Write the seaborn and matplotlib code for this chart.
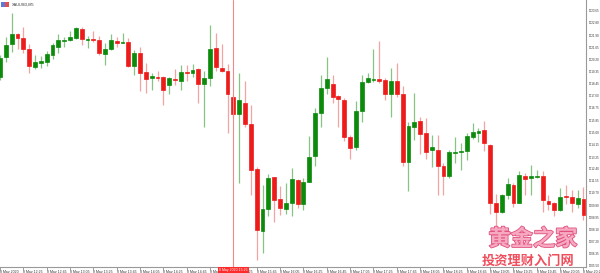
import matplotlib
matplotlib.use("Agg")
import matplotlib.pyplot as plt
import matplotlib.transforms as mtransforms
import matplotlib.patheffects as pe
from matplotlib.patches import Rectangle
import seaborn as sns
import numpy as np
import pandas as pd

# ---------------- data (XAUUSD M5, 8 May 2020, 12:05 .. 20:25) ----------------
opens = [1718.95, 1720.37, 1721.30, 1722.01, 1721.72, 1720.94, 1719.66, 1719.94, 1720.02, 1720.51,
         1721.08, 1721.51, 1721.58, 1721.72, 1722.37, 1721.58, 1721.65, 1721.58, 1720.59, 1720.94,
         1721.51, 1721.40, 1721.44, 1719.73, 1720.66, 1719.30, 1718.88, 1718.95, 1718.95, 1718.38,
         1718.81, 1718.66, 1719.30, 1719.23, 1719.52, 1718.45, 1718.88, 1721.01, 1719.59, 1719.37,
         1717.52, 1716.31, 1717.10, 1715.60, 1712.40, 1707.98, 1709.55, 1711.83, 1710.26, 1709.55,
         1709.98, 1711.61, 1709.91, 1711.47, 1713.32, 1716.38, 1718.16, 1718.45, 1717.59, 1717.31,
         1714.68, 1713.96, 1716.53, 1718.59, 1718.73, 1718.81, 1718.73, 1717.74, 1718.66, 1717.74,
         1712.90, 1715.39, 1715.81, 1714.96, 1713.75, 1713.75, 1712.61, 1711.90, 1713.54, 1713.61,
         1713.68, 1714.68, 1714.96, 1715.17, 1714.11, 1709.98, 1709.34, 1710.55, 1711.26, 1709.98,
         1711.90, 1711.76, 1711.83, 1711.90, 1710.12, 1709.98, 1709.48, 1710.47, 1710.40, 1709.91,
         1710.26]
highs = [1720.51, 1721.80, 1723.50, 1722.08, 1722.51, 1721.30, 1720.51, 1720.44, 1720.80, 1721.37,
         1722.01, 1721.80, 1722.22, 1722.51, 1722.51, 1721.87, 1722.22, 1721.87, 1721.37, 1722.01,
         1721.80, 1722.08, 1721.72, 1720.87, 1721.08, 1719.94, 1719.23, 1719.37, 1719.02, 1718.95,
         1719.52, 1719.80, 1719.80, 1719.87, 1719.59, 1719.37, 1722.65, 1722.08, 1721.30, 1719.87,
         1717.67, 1719.23, 1718.66, 1716.95, 1712.54, 1711.26, 1712.04, 1711.83, 1711.19, 1711.40,
         1712.47, 1711.69, 1711.76, 1714.75, 1716.74, 1719.09, 1720.37, 1719.09, 1717.67, 1717.45,
         1714.82, 1717.24, 1719.09, 1719.23, 1720.94, 1721.51, 1718.88, 1719.59, 1719.94, 1718.31,
         1715.74, 1717.81, 1716.10, 1716.03, 1714.82, 1714.82, 1712.82, 1713.75, 1714.68, 1714.25,
         1714.96, 1715.67, 1715.32, 1715.81, 1714.18, 1710.62, 1710.62, 1711.76, 1711.40, 1712.25,
         1712.11, 1712.68, 1712.33, 1712.25, 1710.55, 1710.05, 1711.04, 1711.26, 1710.90, 1710.90,
         1711.12]
lows = [1718.73, 1720.02, 1720.73, 1720.94, 1720.66, 1719.23, 1719.52, 1719.59, 1719.73, 1720.23,
        1720.66, 1721.08, 1721.51, 1721.65, 1721.23, 1721.01, 1721.44, 1720.51, 1719.80, 1720.87,
        1721.08, 1721.37, 1719.66, 1719.09, 1717.95, 1717.81, 1718.02, 1718.66, 1716.95, 1717.74,
        1718.38, 1718.02, 1718.66, 1718.95, 1717.10, 1715.39, 1718.31, 1719.37, 1719.30, 1714.96,
        1716.10, 1711.40, 1715.39, 1710.55, 1705.92, 1706.42, 1709.05, 1708.62, 1709.12, 1709.19,
        1709.05, 1709.62, 1709.48, 1711.47, 1712.61, 1715.39, 1717.74, 1717.10, 1715.39, 1714.39,
        1713.11, 1713.75, 1715.74, 1718.52, 1718.59, 1718.52, 1717.31, 1716.10, 1717.52, 1712.61,
        1710.83, 1714.46, 1713.47, 1713.11, 1712.54, 1710.55, 1710.55, 1711.76, 1712.82, 1712.33,
        1713.04, 1714.53, 1714.32, 1713.68, 1709.19, 1708.05, 1709.26, 1710.26, 1709.69, 1709.98,
        1710.55, 1710.55, 1711.76, 1709.34, 1709.48, 1709.05, 1709.41, 1709.91, 1709.34, 1709.62,
        1708.77]
closes = [1720.30, 1721.23, 1722.01, 1721.72, 1720.94, 1719.73, 1720.02, 1720.09, 1720.59, 1721.23,
          1721.58, 1721.58, 1721.80, 1722.44, 1721.65, 1721.65, 1721.58, 1720.66, 1720.94, 1721.58,
          1721.37, 1721.44, 1719.73, 1720.66, 1719.23, 1718.81, 1719.02, 1718.88, 1718.02, 1718.88,
          1718.73, 1719.30, 1719.23, 1719.45, 1718.45, 1718.88, 1720.94, 1719.66, 1719.37, 1717.74,
          1716.31, 1717.31, 1715.60, 1712.33, 1708.05, 1709.55, 1711.76, 1710.19, 1709.62, 1709.98,
          1711.69, 1709.91, 1711.47, 1713.25, 1716.38, 1718.16, 1718.81, 1717.52, 1717.38, 1714.68,
          1713.89, 1716.53, 1718.59, 1718.88, 1718.81, 1718.66, 1717.74, 1718.66, 1717.74, 1712.90,
          1715.46, 1715.74, 1714.89, 1713.61, 1713.96, 1712.61, 1711.90, 1713.61, 1713.61, 1713.68,
          1714.75, 1715.03, 1715.10, 1714.25, 1709.98, 1709.34, 1710.55, 1711.33, 1709.98, 1711.97,
          1711.69, 1711.90, 1711.90, 1710.19, 1709.91, 1709.48, 1710.40, 1710.40, 1709.98, 1710.33,
          1709.12]

time_labels = ["8 May 2020", "8 May 12:25", "8 May 12:45", "8 May 13:05", "8 May 13:25",
               "8 May 13:45", "8 May 14:05", "8 May 14:25", "8 May 14:45", "8 May 15:05",
               "8 May 15:25", "8 May 15:45", "8 May 16:05", "8 May 16:25", "8 May 16:45",
               "8 May 17:05", "8 May 17:25", "8 May 17:45", "8 May 18:05", "8 May 18:25",
               "8 May 18:45", "8 May 19:05", "8 May 19:25", "8 May 19:45", "8 May 20:05",
               "8 May 20:25"]
price_ticks = [1723.65, 1722.80, 1721.90, 1721.05, 1720.20, 1719.35, 1718.45, 1717.60,
               1716.75, 1715.85, 1715.00, 1714.15, 1713.25, 1712.40, 1711.55, 1710.70,
               1709.80, 1708.95, 1708.10, 1707.20, 1706.35, 1705.50]
symbol_label = "XAUUSD,M5"
crosshair_bar = 40
crosshair_label = "8 May 2020 15:25"
watermark_main = "黄金之家"
watermark_sub = "投资理财入门网"

# ---------------- figure ----------------
sns.set_theme(style="white")
plt.rcParams['font.family'] = ['Liberation Sans', 'DejaVu Sans']

df = pd.DataFrame({"open": opens, "high": highs, "low": lows, "close": closes})
df["bar"] = np.arange(len(df))
df["up"] = df["close"] >= df["open"]
df["body_lo"] = df[["open", "close"]].min(axis=1)
df["body_h"] = (df["close"] - df["open"]).abs()

W, H = 600, 273
fig = plt.figure(figsize=(6.0, 2.73), dpi=100)
fig.patch.set_facecolor("white")
ax = fig.add_axes([0, 6 / H, 586 / W, 267 / H])
ax.set_facecolor("white")

GREEN, RED = "#0b8a0b", "#ee1b1b"
GREEN_W, RED_W = "#86c486", "#f4a3a3"

up = df[df["up"]]
dn = df[~df["up"]]
ax.vlines(up["bar"], up["low"], up["high"], color=GREEN_W, lw=0.9, zorder=2)
ax.vlines(dn["bar"], dn["low"], dn["high"], color=RED_W, lw=0.9, zorder=2)
ax.bar(up["bar"], up["body_h"], bottom=up["body_lo"], width=0.66,
       color=GREEN, edgecolor=GREEN, linewidth=0.5, zorder=3)
ax.bar(dn["bar"], dn["body_h"], bottom=dn["body_lo"], width=0.66,
       color=RED, edgecolor=RED, linewidth=0.5, zorder=3)

ax.axvline(crosshair_bar, color="#f08a8a", lw=0.8, zorder=4)

ax.set_xlim(0.086, 100.43)
ax.set_ylim(1705.42, 1724.43)

# right price axis
ax.yaxis.tick_right()
ax.set_yticks(price_ticks)
ax.set_yticklabels([f"{v:.2f}" for v in price_ticks])
ax.tick_params(axis="y", which="major", right=True, left=False, length=1.5, width=0.5,
               pad=0.5, labelsize=2.2, labelcolor="#333333", color="#777777")

# bottom time axis
ax.set_xticks(np.arange(0, len(df), 4))
ax.set_xticklabels(time_labels)
ax.tick_params(axis="x", which="major", bottom=True, length=1.8, width=0.5,
               pad=0.4, labelsize=2.5, labelcolor="#333333", color="#777777")
for t in ax.get_xticklabels():
    t.set_horizontalalignment("left")

sns.despine(ax=ax, top=True, left=True, right=False, bottom=False)
for s in ("right", "bottom"):
    ax.spines[s].set_color("#999999")
    ax.spines[s].set_linewidth(0.8)
ax.grid(False)

# crosshair time label
trans = mtransforms.blended_transform_factory(ax.transData, ax.transAxes)
ax.text(crosshair_bar, -0.004, crosshair_label, transform=trans, ha="center", va="top",
        fontsize=2.5, color="white", clip_on=False, zorder=6,
        bbox=dict(boxstyle="square,pad=0.3", fc="#ff2a2a", ec="none"))

# symbol header with tiny icon
fig.patches.append(Rectangle((1 / W, 1 - 7 / H), 4 / W, 5 / H, transform=fig.transFigure,
                             fc="#5a7bd8", ec="none"))
fig.patches.append(Rectangle((5 / W, 1 - 7 / H), 4 / W, 5 / H, transform=fig.transFigure,
                             fc="#e05050", ec="none"))
fig.text(12 / W, 1 - 4.5 / H, symbol_label, fontsize=2.8, color="#333333", va="center", ha="left")

# watermark
fig.text(533 / W, 1 - 239 / H, watermark_main, family=["Noto Sans CJK SC", "DejaVu Sans"],
         fontsize=16, fontweight="bold", color="#f6a9c0", ha="center", va="center", zorder=10,
         path_effects=[pe.withStroke(linewidth=1.2, foreground="#e0517f")])
fig.text(528 / W, 1 - 261 / H, watermark_sub, family=["Noto Sans CJK SC", "DejaVu Sans"],
         fontsize=9.5, fontweight="bold", color="#ee3b4b", ha="center", va="center", zorder=10,
         alpha=0.9)

fig.savefig("out.png", dpi=100, facecolor="white")
